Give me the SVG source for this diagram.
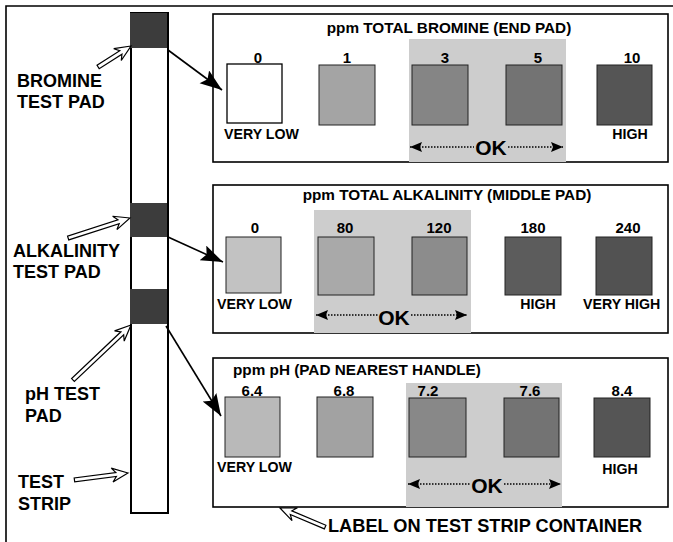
<svg xmlns="http://www.w3.org/2000/svg" width="673" height="542" viewBox="0 0 673 542">
<style>
text{font-family:"Liberation Sans",Arial,sans-serif;font-weight:bold;fill:#000}
.lbl{font-size:18px}
.ttl{font-size:15.3px}
.num{font-size:15px;text-anchor:middle}
.sm{font-size:14.2px}
.ok{font-size:21px;text-anchor:middle}
.panel{fill:#fff;stroke:#000;stroke-width:1.6}
.sq{stroke:#222;stroke-width:1}
.okbg{fill:#cdcdcd}
.dot{stroke:#000;stroke-width:1.3;stroke-dasharray:1.5 1.5;fill:none}
.hol{fill:#fff;stroke:#000;stroke-width:1.2;stroke-linejoin:miter}
.blk{stroke:#000;stroke-width:1.6;fill:none}
.pad{fill:#3c3c3c}
</style>
<defs>
<marker id="big" markerUnits="userSpaceOnUse" markerWidth="24" markerHeight="18" refX="22" refY="8" orient="auto" viewBox="0 0 24 18">
<path d="M0,0 L22,8 L0,16 L4,8 Z" fill="#000"/>
</marker>
<marker id="sm" markerUnits="userSpaceOnUse" markerWidth="14" markerHeight="12" refX="12" refY="5" orient="auto-start-reverse" viewBox="0 0 14 12">
<path d="M0,0 L12,5 L0,10 L2,5 Z" fill="#000"/>
</marker>
</defs>
<rect width="673" height="542" fill="#fff"/>
<path d="M6,542 L6,6 L673,6" fill="none" stroke="#000" stroke-width="1.6"/>

<g id="strip">
<rect x="131" y="13" width="37" height="500" fill="#fff" stroke="#000" stroke-width="2"/>
<rect class="pad" x="130" y="13" width="37" height="35"/>
<rect class="pad" x="130" y="203" width="37" height="34"/>
<rect class="pad" x="130" y="289" width="37" height="35"/>
</g>

<g id="labels-left">
<text class="lbl" x="17" y="87">BROMINE</text>
<text class="lbl" x="17" y="108">TEST PAD</text>
<text class="lbl" x="13" y="257">ALKALINITY</text>
<text class="lbl" x="13" y="278">TEST PAD</text>
<text class="lbl" x="25" y="400">pH TEST</text>
<text class="lbl" x="25" y="422">PAD</text>
<text class="lbl" x="18" y="488">TEST</text>
<text class="lbl" x="18" y="510">STRIP</text>
<text class="lbl" x="328" y="532" style="font-size:18.2px">LABEL ON TEST STRIP CONTAINER</text>
</g>

<g id="panel-bromine">
<rect class="panel" x="213" y="14" width="455" height="148"/>
<rect class="okbg" x="409" y="39" width="157" height="123"/>
<text class="ttl" x="449" y="33" text-anchor="middle">ppm TOTAL BROMINE (END PAD)</text>
<rect x="227" y="64" width="55" height="59" fill="#fff" stroke="#000" stroke-width="1.3"/>
<rect class="sq" x="319" y="65" width="56" height="60" fill="#a4a4a4"/>
<rect class="sq" x="412" y="65" width="56" height="60" fill="#858585"/>
<rect class="sq" x="506" y="65" width="56" height="60" fill="#737373"/>
<rect class="sq" x="597" y="65" width="55" height="60" fill="#555"/>
<text class="num" x="258" y="63">0</text>
<text class="num" x="347" y="63">1</text>
<text class="num" x="445" y="63">3</text>
<text class="num" x="538" y="63">5</text>
<text class="num" x="632" y="63">10</text>
<text class="sm" x="224" y="139">VERY LOW</text>
<text class="sm" x="630" y="139" text-anchor="middle">HIGH</text>
<text class="ok" x="491" y="155">OK</text>
<line class="dot" x1="410" y1="147" x2="474" y2="147" marker-start="url(#sm)"/>
<line class="dot" x1="508" y1="147" x2="563" y2="147" marker-end="url(#sm)"/>
</g>

<g id="panel-alkalinity">
<rect class="panel" x="213" y="185" width="455" height="148"/>
<rect class="okbg" x="314" y="210" width="157" height="123"/>
<text class="ttl" x="447" y="200" text-anchor="middle">ppm TOTAL ALKALINITY (MIDDLE PAD)</text>
<rect class="sq" x="226" y="237" width="55" height="56" fill="#c2c2c2"/>
<rect class="sq" x="318" y="237" width="56" height="58" fill="#a9a9a9"/>
<rect class="sq" x="412" y="237" width="55" height="58" fill="#8c8c8c"/>
<rect class="sq" x="505" y="237" width="56" height="58" fill="#5c5c5c"/>
<rect class="sq" x="596" y="237" width="56" height="58" fill="#525252"/>
<text class="num" x="255" y="233">0</text>
<text class="num" x="345" y="233">80</text>
<text class="num" x="439" y="233">120</text>
<text class="num" x="533" y="233">180</text>
<text class="num" x="628" y="233">240</text>
<text class="sm" x="217" y="309">VERY LOW</text>
<text class="sm" x="538" y="309" text-anchor="middle">HIGH</text>
<text class="sm" x="583" y="309">VERY HIGH</text>
<text class="ok" x="394" y="325">OK</text>
<line class="dot" x1="316" y1="315" x2="378" y2="315" marker-start="url(#sm)"/>
<line class="dot" x1="411" y1="315" x2="467" y2="315" marker-end="url(#sm)"/>
</g>

<g id="panel-ph">
<rect class="panel" x="213" y="358" width="455" height="149"/>
<rect class="okbg" x="406" y="383" width="156" height="124"/>
<text class="ttl" x="233" y="375">ppm pH (PAD NEAREST HANDLE)</text>
<rect class="sq" x="225" y="397" width="55" height="60" fill="#b9b9b9"/>
<rect class="sq" x="317" y="397" width="56" height="60" fill="#a2a2a2"/>
<rect class="sq" x="409" y="398" width="57" height="59" fill="#888"/>
<rect class="sq" x="504" y="398" width="55" height="59" fill="#737373"/>
<rect class="sq" x="594" y="398" width="56" height="59" fill="#555"/>
<text class="num" x="252" y="396">6.4</text>
<text class="num" x="344" y="396">6.8</text>
<text class="num" x="428" y="396">7.2</text>
<text class="num" x="530" y="396">7.6</text>
<text class="num" x="622" y="396">8.4</text>
<text class="sm" x="217" y="472">VERY LOW</text>
<text class="sm" x="620" y="474" text-anchor="middle">HIGH</text>
<text class="ok" x="487" y="493">OK</text>
<line class="dot" x1="408" y1="484" x2="471" y2="484" marker-start="url(#sm)"/>
<line class="dot" x1="504" y1="484" x2="561" y2="484" marker-end="url(#sm)"/>
</g>

<g id="connectors">
<line class="blk" x1="168" y1="50" x2="222" y2="90" marker-end="url(#big)"/>
<line class="blk" x1="168" y1="237" x2="223" y2="262" marker-end="url(#big)"/>
<line class="blk" x1="166" y1="326" x2="221" y2="416" marker-end="url(#big)"/>
<polygon class="hol" transform="translate(131,46) rotate(-32.5)" points="0,0 -16,-7 -12,-2 -39,-2 -39,2 -12,2 -16,7"/>
<polygon class="hol" transform="translate(130,218) rotate(-17.9)" points="0,0 -16,-7 -12,-2 -65,-2 -65,2 -12,2 -16,7"/>
<polygon class="hol" transform="translate(131,325) rotate(-43.5)" points="0,0 -16,-7 -12,-2 -80,-2 -80,2 -12,2 -16,7"/>
<polygon class="hol" transform="translate(128,473) rotate(-7.4)" points="0,0 -16,-7 -12,-2 -54,-2 -54,2 -12,2 -16,7"/>
<polygon class="hol" transform="translate(280,508) rotate(-157.1)" points="0,0 -16,-7 -12,-2 -49,-2 -49,2 -12,2 -16,7"/>
</g>
</svg>
